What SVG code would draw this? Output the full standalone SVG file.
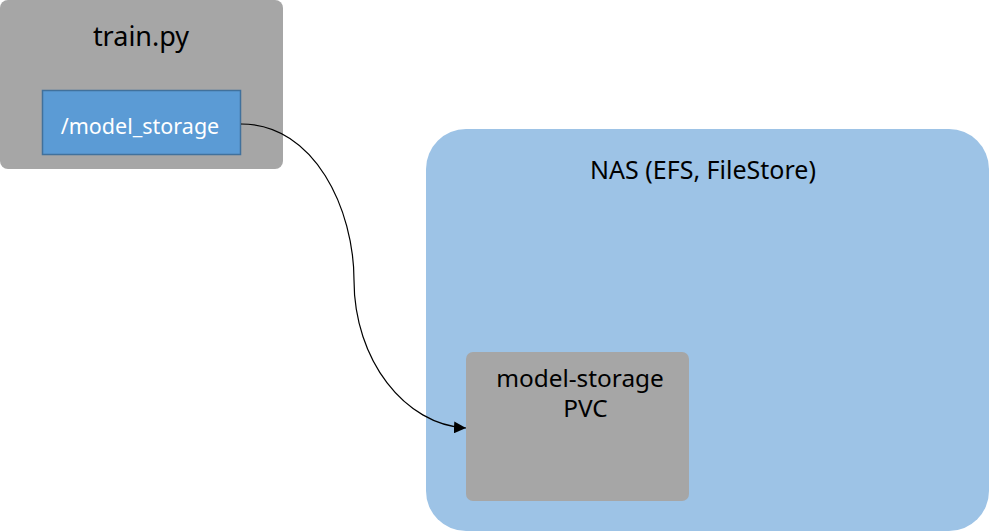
<svg xmlns="http://www.w3.org/2000/svg" width="989" height="532" viewBox="0 0 989 532">
<style>
.gray{fill:#a6a6a6}
.t{font-family:"Noto Sans","Open Sans","Liberation Sans",sans-serif;text-anchor:middle;fill:#000}
.conn{fill:none;stroke:#000;stroke-width:1.2}
</style>
<defs>
<marker id="arrow" viewBox="0 0 10 10" refX="10" refY="5" markerWidth="12" markerHeight="12" markerUnits="userSpaceOnUse" orient="auto">
<path d="M0,0 L10,5 L0,10 Z" fill="#000"/>
</marker>
</defs>
<rect width="989" height="532" fill="#fff"/>
<g id="train">
<rect class="gray" x="0" y="0" width="283" height="169" rx="8"/>
<text class="t" x="141" y="46" font-size="27">train.py</text>
</g>
<g id="model_storage">
<rect x="42.5" y="90.5" width="198" height="64" fill="#5b9bd5" stroke="#41719c" stroke-width="1.5"/>
<text class="t" x="140" y="134" font-size="21.5" style="fill:#fff">/model_storage</text>
</g>
<g id="nas">
<rect x="426" y="129" width="563" height="402" rx="40" fill="#9dc3e6"/>
<text class="t" x="703" y="179" font-size="25">NAS (EFS, FileStore)</text>
</g>
<g id="pvc">
<rect class="gray" x="466" y="352" width="223" height="149" rx="7"/>
<text class="t" x="580" y="387" font-size="24.4">model-storage</text>
<text class="t" x="585.5" y="417" font-size="24.4">PVC</text>
</g>
<g id="connectors">
<path class="conn" d="M241,124 C315,124 354,210 354,280 C354,360 405,425 466,428" marker-end="url(#arrow)"/>
</g>
</svg>
